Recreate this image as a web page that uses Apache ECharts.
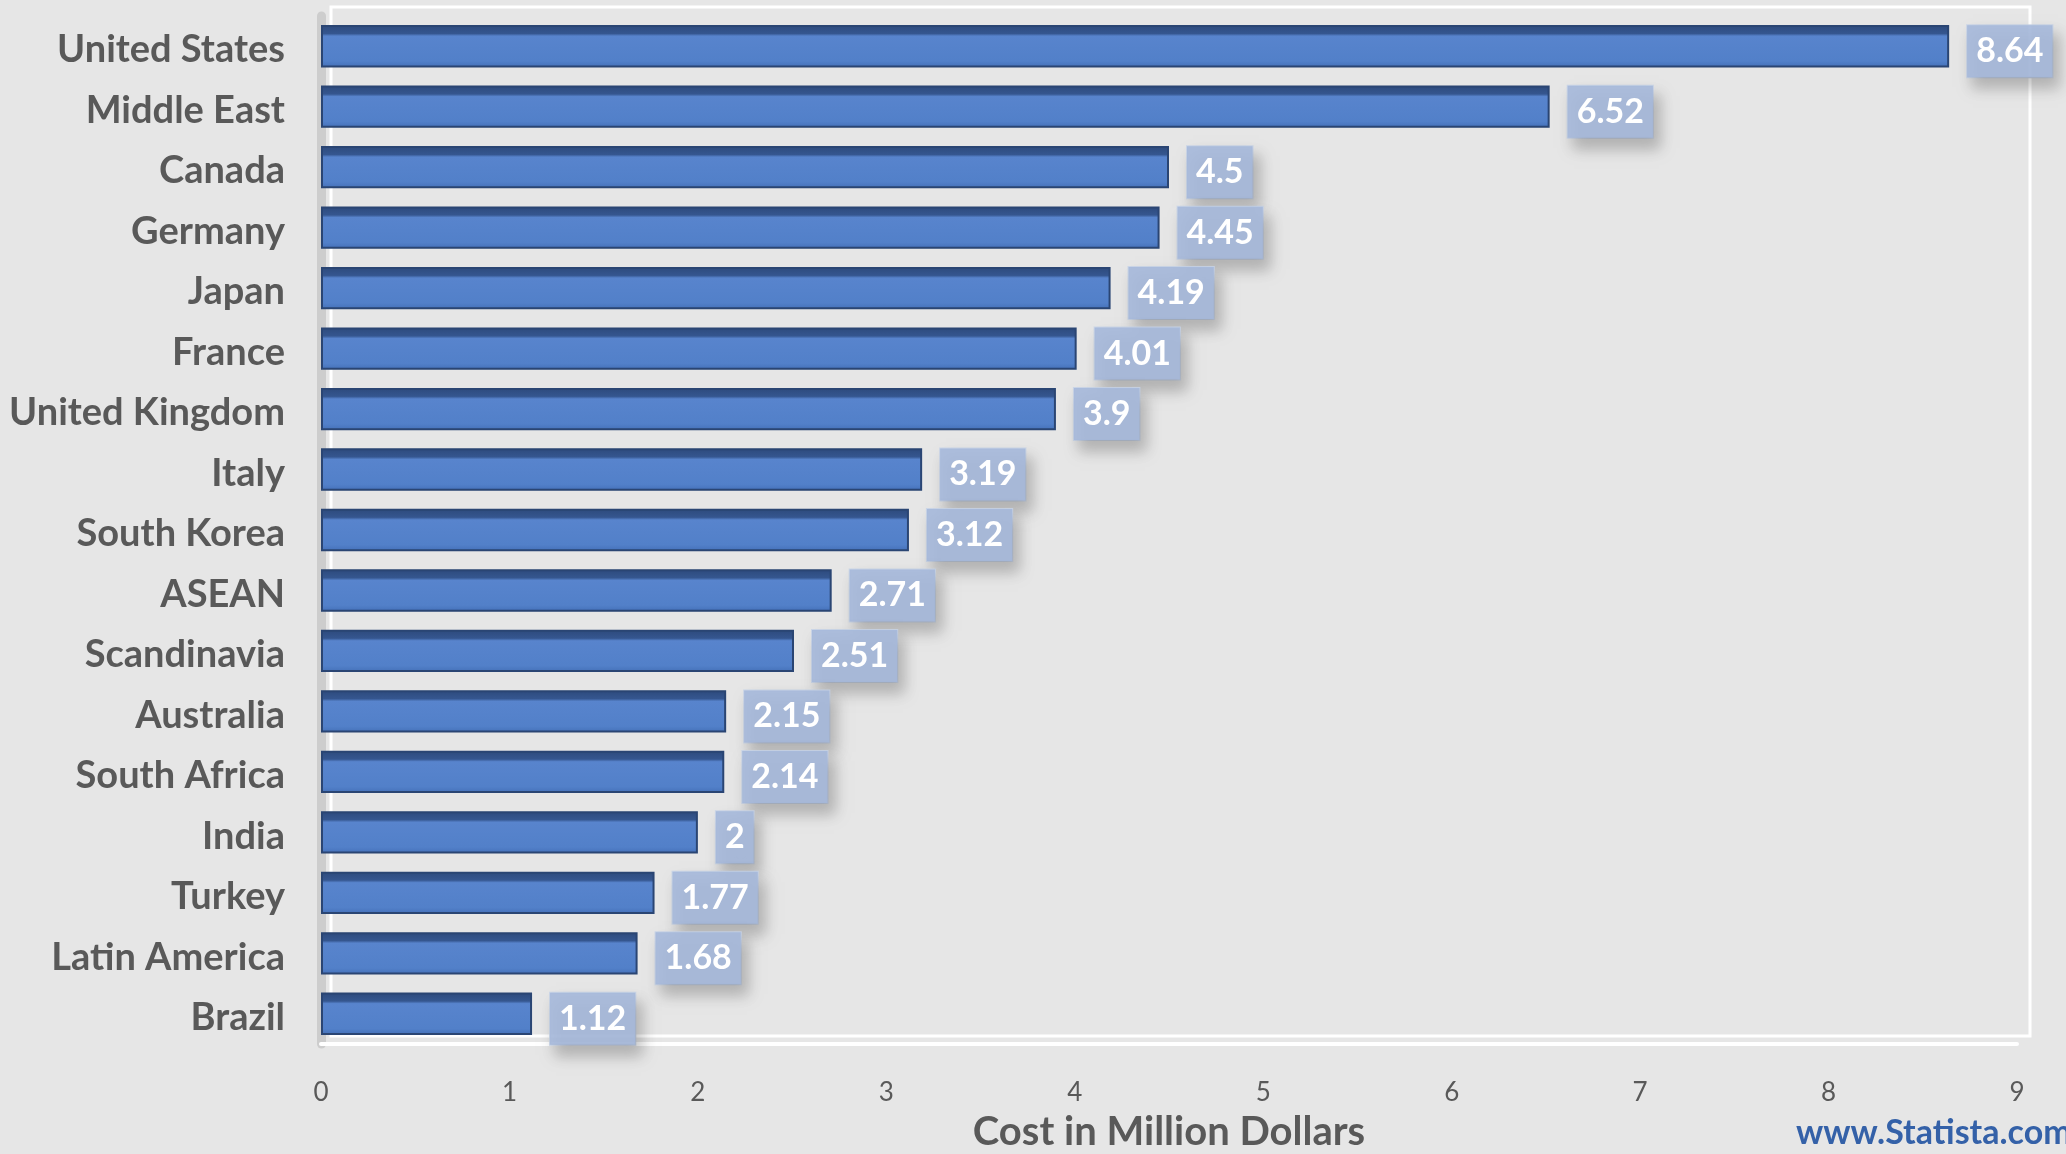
<!DOCTYPE html>
<html>
<head>
<meta charset="utf-8">
<script src="https://cdn.jsdelivr.net/npm/echarts@6/dist/echarts.min.js"></script>
<style>
html,body{margin:0;padding:0;background:#e6e6e6;}
#chart{width:2066px;height:1154px;}
</style>
</head>
<body>
<div id="chart"></div>
<script>
const categories = ["United States","Middle East","Canada","Germany","Japan","France","United Kingdom","Italy","South Korea","ASEAN","Scandinavia","Australia","South Africa","India","Turkey","Latin America","Brazil"];
const costValues = [8.64,6.52,4.5,4.45,4.19,4.01,3.9,3.19,3.12,2.71,2.51,2.15,2.14,2,1.77,1.68,1.12];
const xTicks = [0,1,2,3,4,5,6,7,8,9];

const chart = echarts.init(document.getElementById('chart'));
const barGradient = new echarts.graphic.LinearGradient(0,0,0,1,[
  {offset:0,color:'#2d4a7c'},
  {offset:0.2,color:'#35568f'},
  {offset:0.26,color:'#5884cd'},
  {offset:0.85,color:'#5280c9'},
  {offset:1,color:'#4470b8'}
]);
chart.setOption({
  backgroundColor:'#e6e6e6',
  animation:false,
  grid:[
    {left:331,right:36,top:7,bottom:118,show:true,backgroundColor:'transparent',borderColor:'#ffffff',borderWidth:3,z:0,outerBoundsMode:'none',containLabel:false},
    {left:321,right:49,top:16,bottom:110,show:false,outerBoundsMode:'none',containLabel:false}
  ],
  xAxis:[
    {gridIndex:0,type:'value',min:0,max:1,show:false},
    {
      gridIndex:1,type:'value',min:xTicks[0],max:xTicks[xTicks.length-1],interval:1,
      axisLine:{show:true,lineStyle:{color:'#ffffff',width:4}},
      axisTick:{show:false},
      splitLine:{show:false},
      axisLabel:{color:'#595959',fontFamily:'Lato',fontSize:26,margin:36},
      name:'Cost in Million Dollars',nameLocation:'middle',nameGap:68,
      nameTextStyle:{color:'#595959',fontFamily:'Lato',fontWeight:'bold',fontSize:40}
    }
  ],
  yAxis:[
    {gridIndex:0,type:'value',min:0,max:1,show:false},
    {
      gridIndex:1,type:'category',data:categories,inverse:true,
      axisLine:{show:true,lineStyle:{color:'#cdcdcd',width:9}},
      axisTick:{show:false},
      axisLabel:{color:'#595959',fontFamily:'Lato',fontWeight:'bold',fontSize:38,margin:36,verticalAlign:'top',lineHeight:8}
    }
  ],
  series:[{
    type:'bar',xAxisIndex:1,yAxisIndex:1,data:costValues,barCategoryGap:'30%',
    itemStyle:{color:barGradient,borderColor:'#2a4573',borderWidth:2},
    label:{
      show:true,position:'right',distance:18,offset:[0,5],
      color:'#ffffff',fontFamily:'Lato',fontSize:34,fontWeight:'bold',
      backgroundColor:'rgba(165,184,218,0.9)',padding:[10,9,8,9],
      shadowColor:'rgba(0,0,0,0.25)',shadowBlur:14,shadowOffsetX:6,shadowOffsetY:10,
      borderColor:'rgba(200,212,232,0.9)',borderWidth:1
    }
  }],
  graphic:[{
    type:'text',left:1796,bottom:4,
    style:{text:'www.Statista.com',fill:'#3461a8',font:'bold 34px Lato'}
  }]
});
</script>
</body>
</html>
